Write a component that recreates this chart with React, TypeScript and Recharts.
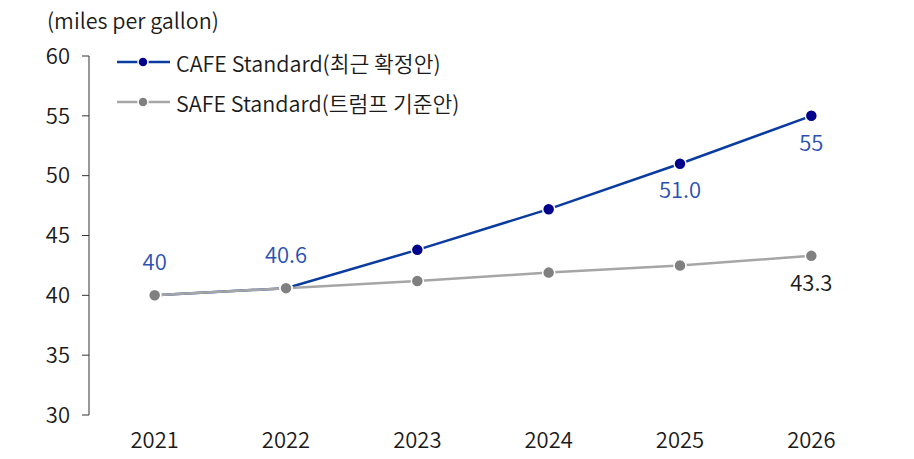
// Line chart: CAFE vs SAFE fuel-economy standards (mpg), 2021-2026.

import { LineChart, Line, XAxis, YAxis, LabelList } from 'recharts';

const years = [2021, 2022, 2023, 2024, 2025, 2026];
const cafeValues = [40, 40.6, 43.8, 47.2, 51.0, 55];
const safeValues = [40, 40.6, 41.2, 41.9, 42.5, 43.3];
const cafeLabels = ['40', '40.6', '', '', '51.0', '55'];
const safeLabels = ['', '', '', '', '', '43.3'];
const yTicks = [30, 35, 40, 45, 50, 55, 60];
const edgeTicks = [2020.5, 2021.5, 2022.5, 2023.5, 2024.5, 2025.5, 2026.5];

const FONT = '"Noto Sans CJK KR", "Noto Sans", sans-serif';
const WEIGHT = 350;
const BLUE_LINE = '#0a3ca0';
const BLUE_DOT = '#00008c';
const BLUE_TEXT = '#2a50b2';
const GRAY_LINE = '#a6a6a6';
const GRAY_DOT = '#808080';
const AXIS = '#333333';
const TEXT = '#1a1a1a';

const data = years.map((year, i) => ({
  year,
  cafe: cafeValues[i],
  safe: safeValues[i],
}));

// Décalages des étiquettes (au-dessus pour les 2 premières, en dessous sinon)
function makeLabel(labels: string[], color: string) {
  return (props: any) => {
    const { x, y, index } = props;
    const text = labels[index];
    if (!text) return null;
    const above = index < 2;
    return (
      <text
        x={x}
        y={above ? y - 33 : y + 27}
        dy="0.35em"
        textAnchor="middle"
        fill={color}
        fontSize={22}
        fontWeight={WEIGHT}
        fontFamily={FONT}
      >
        {text}
      </text>
    );
  };
}

function LegendBox() {
  const rows = [
    { label: 'CAFE Standard(최근 확정안)', line: BLUE_LINE, dot: BLUE_DOT },
    { label: 'SAFE Standard(트럼프 기준안)', line: GRAY_LINE, dot: GRAY_DOT },
  ];
  return (
    <div style={{ position: 'absolute', left: 117, top: 42 }}>
      {rows.map((r) => (
        <div key={r.label} style={{ display: 'flex', alignItems: 'center', height: 40 }}>
          <svg width={54} height={14} style={{ marginRight: 5 }}>
            <line x1={0} y1={7} x2={53} y2={7} stroke={r.line} strokeWidth={2.5} />
            <circle cx={26} cy={7} r={5} fill={r.dot} stroke="#fff" strokeWidth={1.5} />
          </svg>
          <span style={{ fontFamily: FONT, fontSize: 21.5, fontWeight: WEIGHT, color: TEXT, whiteSpace: 'nowrap' }}>
            {r.label}
          </span>
        </div>
      ))}
    </div>
  );
}

export default function App() {
  const tickStyle = { fill: TEXT, fontSize: 22, fontFamily: FONT, fontWeight: WEIGHT };
  return (
    <div style={{ position: 'absolute', left: 0, top: 0, width: 914, height: 459, background: '#fff' }}>
      <div
        style={{
          position: 'absolute',
          left: 47,
          top: 4,
          fontFamily: FONT,
          fontSize: 21.5,
          fontWeight: WEIGHT,
          color: TEXT,
        }}
      >
        (miles per gallon)
      </div>
      <LineChart
        width={914}
        height={459}
        data={data}
        margin={{ top: 56, right: 37, left: 0, bottom: 0 }}
      >
        <XAxis
          xAxisId="edges"
          type="number"
          dataKey="year"
          domain={[2020.5, 2026.5]}
          ticks={edgeTicks}
          tick={false}
          tickSize={6}
          height={0}
          stroke={AXIS}
          axisLine={{ stroke: AXIS }}
          tickLine={{ stroke: AXIS }}
        />
        <XAxis
          xAxisId="main"
          type="number"
          dataKey="year"
          domain={[2020.5, 2026.5]}
          ticks={years}
          height={44}
          axisLine={false}
          tickLine={false}
          tickSize={0}
          tickMargin={17}
          tick={tickStyle}
        />
        <YAxis
          domain={[30, 60]}
          ticks={yTicks}
          width={89}
          stroke={AXIS}
          tickSize={7}
          tickMargin={12}
          tick={tickStyle}
        />
        <Line
          xAxisId="main"
          dataKey="cafe"
          stroke={BLUE_LINE}
          strokeWidth={2.5}
          dot={{ r: 6, fill: BLUE_DOT, stroke: '#fff', strokeWidth: 1.5 }}
          isAnimationActive={false}
        >
          <LabelList dataKey="cafe" content={makeLabel(cafeLabels, BLUE_TEXT)} />
        </Line>
        <Line
          xAxisId="main"
          dataKey="safe"
          stroke={GRAY_LINE}
          strokeWidth={2.5}
          dot={{ r: 6, fill: GRAY_DOT, stroke: '#fff', strokeWidth: 1.5 }}
          isAnimationActive={false}
        >
          <LabelList dataKey="safe" content={makeLabel(safeLabels, TEXT)} />
        </Line>
      </LineChart>
      <LegendBox />
    </div>
  );
}
